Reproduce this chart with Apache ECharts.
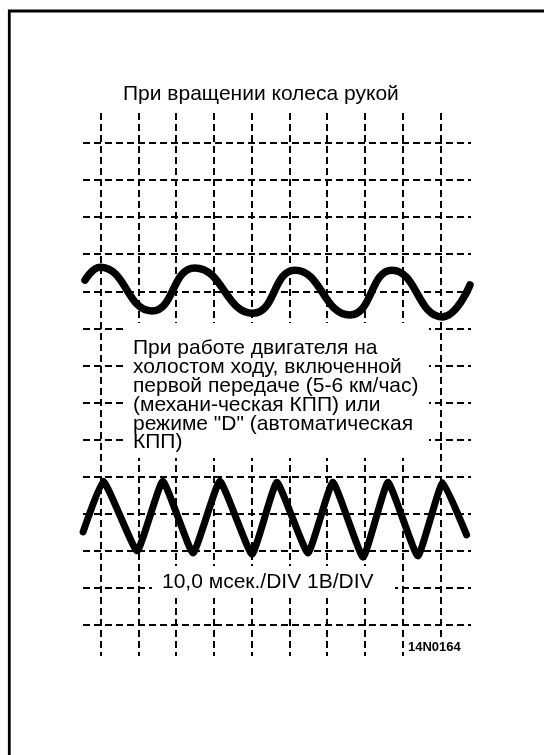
<!DOCTYPE html>
<html><head><meta charset="utf-8">
<script src="https://cdn.jsdelivr.net/npm/echarts@6/dist/echarts.min.js"></script>
<style>html,body{margin:0;padding:0;background:#fff}#c{width:544px;height:755px}</style>
</head><body><div id="c"></div>
<script>
// Oscilloscope grid: 10 ms/div horizontally, 1 V/div vertically
const gridTimeTicks = [0, 90];      // first and last vertical division line (ms)
const gridVoltTicks = [0, 13];      // first and last horizontal division line (V)

// Upper trace (wheel turned by hand) – start, peaks, troughs, end
const upperTime = [-4.1, -0.1, 13.6, 25.0, 40.4, 51.5, 66.0, 77.2, 90.4, 97.8];
const upperVolt = [9.30, 9.65, 8.47, 9.63, 8.41, 9.57, 8.36, 9.57, 8.31, 9.17];

// Lower trace (engine idling, first gear / "D")
const lowerTime = [-4.6, 0.7, 9.7, 16.5, 24.5, 31.6, 40.1, 46.7, 54.9, 61.5, 69.5, 76.1, 84.0, 90.6, 96.9];
const lowerVolt = [2.51, 3.88, 2.00, 3.88, 1.94, 3.88, 1.91, 3.85, 1.94, 3.85, 1.83, 3.85, 1.86, 3.84, 2.43];

const titleTop = "При вращении колеса рукой";
const textMiddle = [
  "При работе двигателя на",
  "холостом ходу, включенной",
  "первой передаче (5-6 км/час)",
  "(механи-ческая КПП) или",
  "режиме \"D\" (автоматическая",
  "КПП)"
];
const textScale = "10,0 мсек./DIV 1B/DIV";
const textCode = "14N0164";

const pair = (xs, ys) => xs.map((x, i) => [x, ys[i]]);
const FONT = '"Liberation Sans", Arial, sans-serif';
const dash = { color: '#000', width: 2, type: [7, 4] };
const hidden = { axisLine: { show: false }, axisTick: { show: false }, axisLabel: { show: false } };

const chart = echarts.init(document.getElementById('c'), null, { renderer: 'canvas' });

const graphics = [
  { type: 'polyline', z: 10, shape: { points: [[9.3, 755], [9.3, 11], [544, 11]] },
    style: { stroke: '#000', lineWidth: 2.8, fill: null } },
  { type: 'rect', z: 5, shape: { x: 126, y: 323, width: 303, height: 135 }, style: { fill: '#fff' } },
  { type: 'rect', z: 5, shape: { x: 152, y: 566, width: 243, height: 32 }, style: { fill: '#fff' } },
  { type: 'rect', z: 5, shape: { x: 406, y: 639, width: 62, height: 18 }, style: { fill: '#fff' } },
  { type: 'text', z: 6, x: 123, y: 94.4,
    style: { text: titleTop, font: '21px ' + FONT, fill: '#000', align: 'left', verticalAlign: 'middle' } },
  { type: 'text', z: 6, x: 162, y: 582,
    style: { text: textScale, font: '21px ' + FONT, fill: '#000', align: 'left', verticalAlign: 'middle' } },
  { type: 'text', z: 6, x: 408, y: 647.5,
    style: { text: textCode, font: 'bold 13px ' + FONT, fill: '#000', align: 'left', verticalAlign: 'middle' } }
];
textMiddle.forEach((t, i) => {
  graphics.push({ type: 'text', z: 6, x: 133, y: 348.7 + 18.8 * i,
    style: { text: t, font: '21px ' + FONT, fill: '#000', align: 'left', verticalAlign: 'middle' } });
});

chart.setOption({
  animation: false,
  backgroundColor: '#fff',
  grid: [
    { left: 100.5, right: 103.5, top: 113, bottom: 99 },      // vertical division lines
    { left: 83, right: 73, top: 143, bottom: 130 },           // horizontal division lines
    { left: 62.7, right: 65.7, top: 105.92, bottom: 92.92 }   // traces
  ],
  xAxis: [
    Object.assign({ gridIndex: 0, type: 'value', min: gridTimeTicks[0], max: gridTimeTicks[1], interval: 10,
      splitLine: { show: true, lineStyle: dash } }, hidden),
    Object.assign({ gridIndex: 1, type: 'value', min: 0, max: 1, splitLine: { show: false } }, hidden),
    Object.assign({ gridIndex: 2, type: 'value', min: -10, max: 100, interval: 10,
      splitLine: { show: false } }, hidden)
  ],
  yAxis: [
    Object.assign({ gridIndex: 0, type: 'value', min: 0, max: 1, splitLine: { show: false } }, hidden),
    Object.assign({ gridIndex: 1, type: 'value', min: gridVoltTicks[0], max: gridVoltTicks[1], interval: 1,
      splitLine: { show: true, lineStyle: dash } }, hidden),
    Object.assign({ gridIndex: 2, type: 'value', min: -1, max: 14, interval: 1,
      splitLine: { show: false } }, hidden)
  ],
  series: [
    { type: 'line', xAxisIndex: 2, yAxisIndex: 2, data: pair(upperTime, upperVolt), smooth: 0.5,
      clip: false, showSymbol: false, symbol: 'none', z: 3,
      lineStyle: { color: '#000', width: 7.5, cap: 'round', join: 'round' } },
    { type: 'line', xAxisIndex: 2, yAxisIndex: 2, data: pair(lowerTime, lowerVolt), smooth: 0.12,
      clip: false, showSymbol: false, symbol: 'none', z: 3,
      lineStyle: { color: '#000', width: 7, cap: 'round', join: 'round' } }
  ],
  graphic: graphics
});
</script>
</body></html>
